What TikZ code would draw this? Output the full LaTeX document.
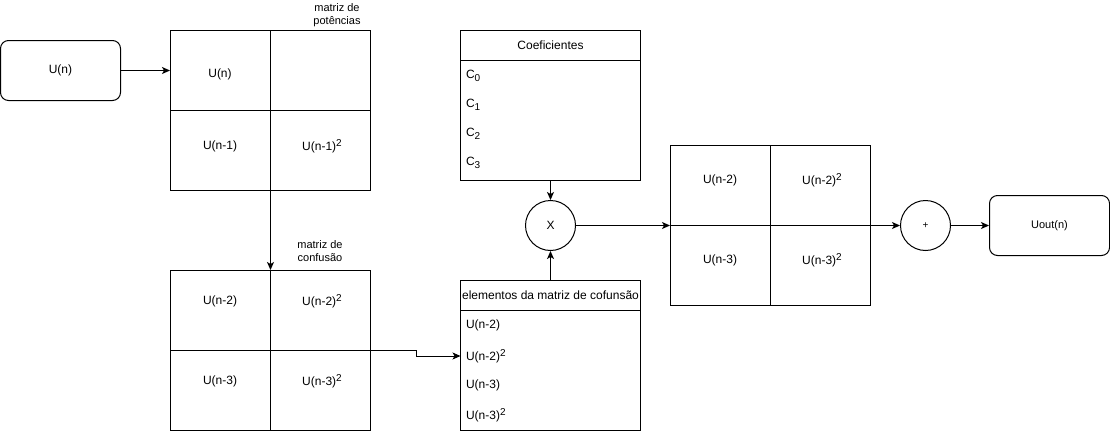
\documentclass[tikz,border=0pt]{standalone}
\usepackage{fontspec}
\setmainfont{Liberation Sans}
\usepackage{tikz}
\usetikzlibrary{calc, arrows.meta, shapes, positioning}
\tikzset{>={Stealth[length=8pt,width=7pt,inset=2pt]}}
\tikzset{
  bloco/.style={draw, rounded corners=8pt, minimum width=120pt, minimum height=60pt, inner sep=0pt},
  matriz/.style={draw, minimum width=200pt, minimum height=160pt, inner sep=0pt},
  lista/.style={draw, minimum width=180pt, minimum height=150pt, inner sep=0pt},
  circulo/.style={draw, circle, minimum size=50pt, inner sep=0pt},
  item/.style={anchor=west, inner xsep=5pt, inner ysep=0pt},
  rotulo/.style={align=center, font=\fontsize{11}{13}\selectfont}
}
\newcommand{\expo}[1]{\raisebox{4.5pt}{\fontsize{10}{12}\selectfont #1}}
\newcommand{\indice}[1]{\raisebox{-3pt}{\fontsize{10}{12}\selectfont #1}}

\begin{document}
\begin{tikzpicture}[x=1pt, y=-1pt, line width=1pt, font=\fontsize{12}{14}\selectfont]

\useasboundingbox (0,0) rectangle (1110,431);

% entrada
\node[bloco] (un) at (60.5,70.5) {U(n)};

% matriz de potencias
\node[matriz] (pot) at (270.5,110.5) {};
\draw (pot.north) -- (pot.south);
\draw (pot.west) -- (pot.east);
\node (p11) at (220,74) {U(n)};
\node (p21) at (220,146) {U(n-1)};
\node (p22) at (322,146) {U(n-1)\expo{2}};
\node[rotulo] (lpot) at (337,15) {matriz de\\potências};

% matriz de confusao
\node[matriz] (conf) at (270.5,350.5) {};
\draw (conf.north) -- (conf.south);
\draw (conf.west) -- (conf.east);
\node (c11) at (220,301) {U(n-2)};
\node (c12) at (322,301) {U(n-2)\expo{2}};
\node (c21) at (220,381) {U(n-3)};
\node (c22) at (322,381) {U(n-3)\expo{2}};
\node[rotulo] (lconf) at (320,251) {matriz de\\confusão};

% coeficientes
\node[lista] (coef) at (550.5,105.5) {};
\draw ($(coef.north west)+(0,30)$) -- ($(coef.north east)+(0,30)$);
\node (tcoef) at (550.5,45.5) {Coeficientes};
\node[item] (k0) at (460.5,76) {C\indice{0}};
\node[item] (k1) at (460.5,105) {C\indice{1}};
\node[item] (k2) at (460.5,134) {C\indice{2}};
\node[item] (k3) at (460.5,163) {C\indice{3}};

% elementos
\node[lista] (elem) at (550.5,355.5) {};
\draw ($(elem.north west)+(0,30)$) -- ($(elem.north east)+(0,30)$);
\node (telem) at (550.5,295.5) {elementos da matriz de cofunsão};
\node[item] (e0) at (460.5,325) {U(n-2)};
\node[item] (e1) at (460.5,356) {U(n-2)\expo{2}};
\node[item] (e2) at (460.5,385) {U(n-3)};
\node[item] (e3) at (460.5,415) {U(n-3)\expo{2}};

% produto
\node[circulo] (mult) at (550.5,225.5) {X};

% resultado
\node[matriz] (res) at (770.5,225.5) {};
\draw (res.north) -- (res.south);
\draw (res.west) -- (res.east);
\node (r11) at (720,180) {U(n-2)};
\node (r12) at (822,180) {U(n-2)\expo{2}};
\node (r21) at (720,260) {U(n-3)};
\node (r22) at (822,260) {U(n-3)\expo{2}};

% soma e saida
\node[circulo, font=\fontsize{10}{12}\selectfont] (soma) at (925.5,225.5) {+};
\node[bloco, font=\fontsize{11}{13}\selectfont] (uout) at (1049.5,225.5) {Uout(n)};

% conexoes
\draw[->] (un.east) -- (un.east -| pot.west);
\draw[->] (pot.south) -- (conf.north);
\draw[->] (conf.east) -- ++(45,0) |- (e1.west);
\draw[->] (coef.south) -- (mult.north);
\draw[->] (elem.north) -- (mult.south);
\draw[->] (mult.east) -- (res.west);
\draw[->] (res.east) -- (soma.west);
\draw[->] (soma.east) -- (uout.west);

\end{tikzpicture}
\end{document}
